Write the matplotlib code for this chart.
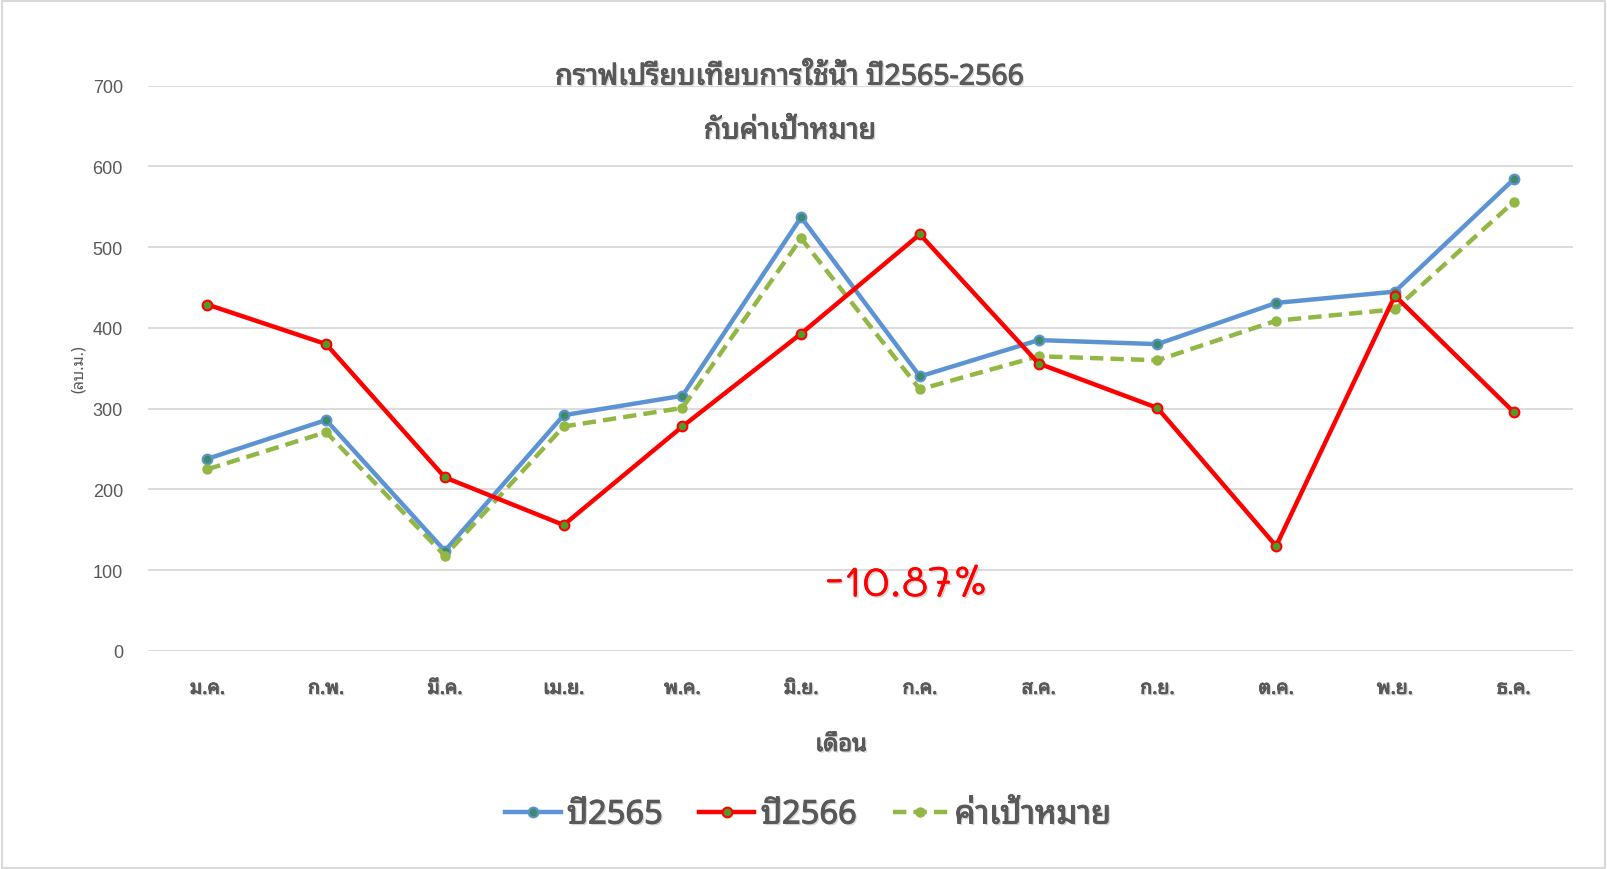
import matplotlib
matplotlib.use("Agg")
import matplotlib.pyplot as plt
from matplotlib.patches import Rectangle
import matplotlib.patheffects as pe

months = ["ม.ค.", "ก.พ.", "มี.ค.", "เม.ย.", "พ.ค.", "มิ.ย.",
          "ก.ค.", "ส.ค.", "ก.ย.", "ต.ค.", "พ.ย.", "ธ.ค."]
use_2565 = [238, 286, 124, 292, 316, 537, 340, 385, 380, 431, 445, 584]
use_2566 = [429, 380, 215, 156, 278, 393, 516, 356, 301, 130, 440, 296]
target = [225, 271, 118, 278, 301, 511, 324, 365, 360, 409, 423, 556]
y_ticks = [0, 100, 200, 300, 400, 500, 600, 700]
note = "-10.87%"

thai_font = ["Noto Sans Thai Looped", "Loma", "DejaVu Sans"]
hand_font = ["Mali", "Itim", "DejaVu Sans"]
plt.rcParams["font.family"] = thai_font

gray = "#595959"
# light drop shadow plus a thin stroke to thicken the regular-weight Thai font
shadow = [pe.withSimplePatchShadow(offset=(1.2, -1.2), shadow_rgbFace="#bbbbbb", alpha=0.6),
          pe.withStroke(linewidth=0.7, foreground=gray)]
red_shadow = [pe.withSimplePatchShadow(offset=(1.2, -1.2), shadow_rgbFace="#bbbbbb", alpha=0.6), pe.Normal()]

fig = plt.figure(figsize=(16.08, 8.70), dpi=100)
ax = fig.add_axes([148 / 1608, 1 - 652 / 870, 1425 / 1608, (652 - 86.7) / 870])

x = list(range(len(months)))
ax.plot(x, use_2565, color="#5B93D3", lw=3.2, marker="o", ms=7,
        mfc="#3F8B68", mec="#5B93D3", mew=1.5, label="ปี2565", zorder=3)
ax.plot(x, use_2566, color="#FF0000", lw=3.2, marker="o", ms=7,
        mfc="#4F9A2A", mec="#FF0000", mew=1.5, label="ปี2566", zorder=4)
ax.plot(x, target, color="#92B744", lw=3.2, ls=(0, (3, 1.6)), marker="o", ms=6.5,
        mfc="#92B744", mec="#92B744", label="ค่าเป้าหมาย", zorder=3)

ax.set_xlim(-0.5, len(months) - 0.5)
ax.set_ylim(0, 700)
ax.set_yticks(y_ticks)
ax.set_yticklabels([str(v) for v in y_ticks], family=["Liberation Sans", "DejaVu Sans"])
ax.set_xticks(x)
ax.set_xticklabels(months, fontsize=14, color=gray)
for t in ax.get_xticklabels():
    t.set_path_effects(shadow)
ax.tick_params(axis="y", labelsize=13, labelcolor=gray, length=0, pad=18)
ax.tick_params(axis="x", length=0, pad=20)
ax.grid(axis="y", color="#D9D9D9", lw=1.3)
for s in ax.spines.values():
    s.set_visible(False)

ax.set_ylabel("(ลบ.ม.)", fontsize=11.5, color=gray, labelpad=4)
fig.text(841 / 1608, 1 - 746 / 870, "เดือน", ha="center", va="center",
         fontsize=17, color=gray, path_effects=shadow)
fig.text(790 / 1608, 1 - 78 / 870, "กราฟเปรียบเทียบการใช้น้ำ ปี2565-2566", ha="center", va="center",
         fontsize=20.5, color=gray, path_effects=shadow)
fig.text(790 / 1608, 1 - 132 / 870, "กับค่าเป้าหมาย", ha="center", va="center",
         fontsize=20.5, color=gray, path_effects=shadow)
fig.text(907 / 1608, 1 - 585 / 870, note, ha="center", va="center",
         fontsize=31, color="#FF0000", family=hand_font, path_effects=red_shadow)

leg = fig.legend(loc="center", bbox_to_anchor=(808 / 1608, 1 - 816 / 870), ncol=3,
                 frameon=False, fontsize=23.5, handlelength=1.7, columnspacing=1.1,
                 handletextpad=0.2)
for t in leg.get_texts():
    t.set_color(gray)
    t.set_path_effects(shadow)

fig.patches.append(Rectangle((0.001, 0.001), 0.997, 0.997, transform=fig.transFigure,
                             fill=False, ec="#D9D9D9", lw=1.5))

fig.savefig("out.png", dpi=100, facecolor="white")
